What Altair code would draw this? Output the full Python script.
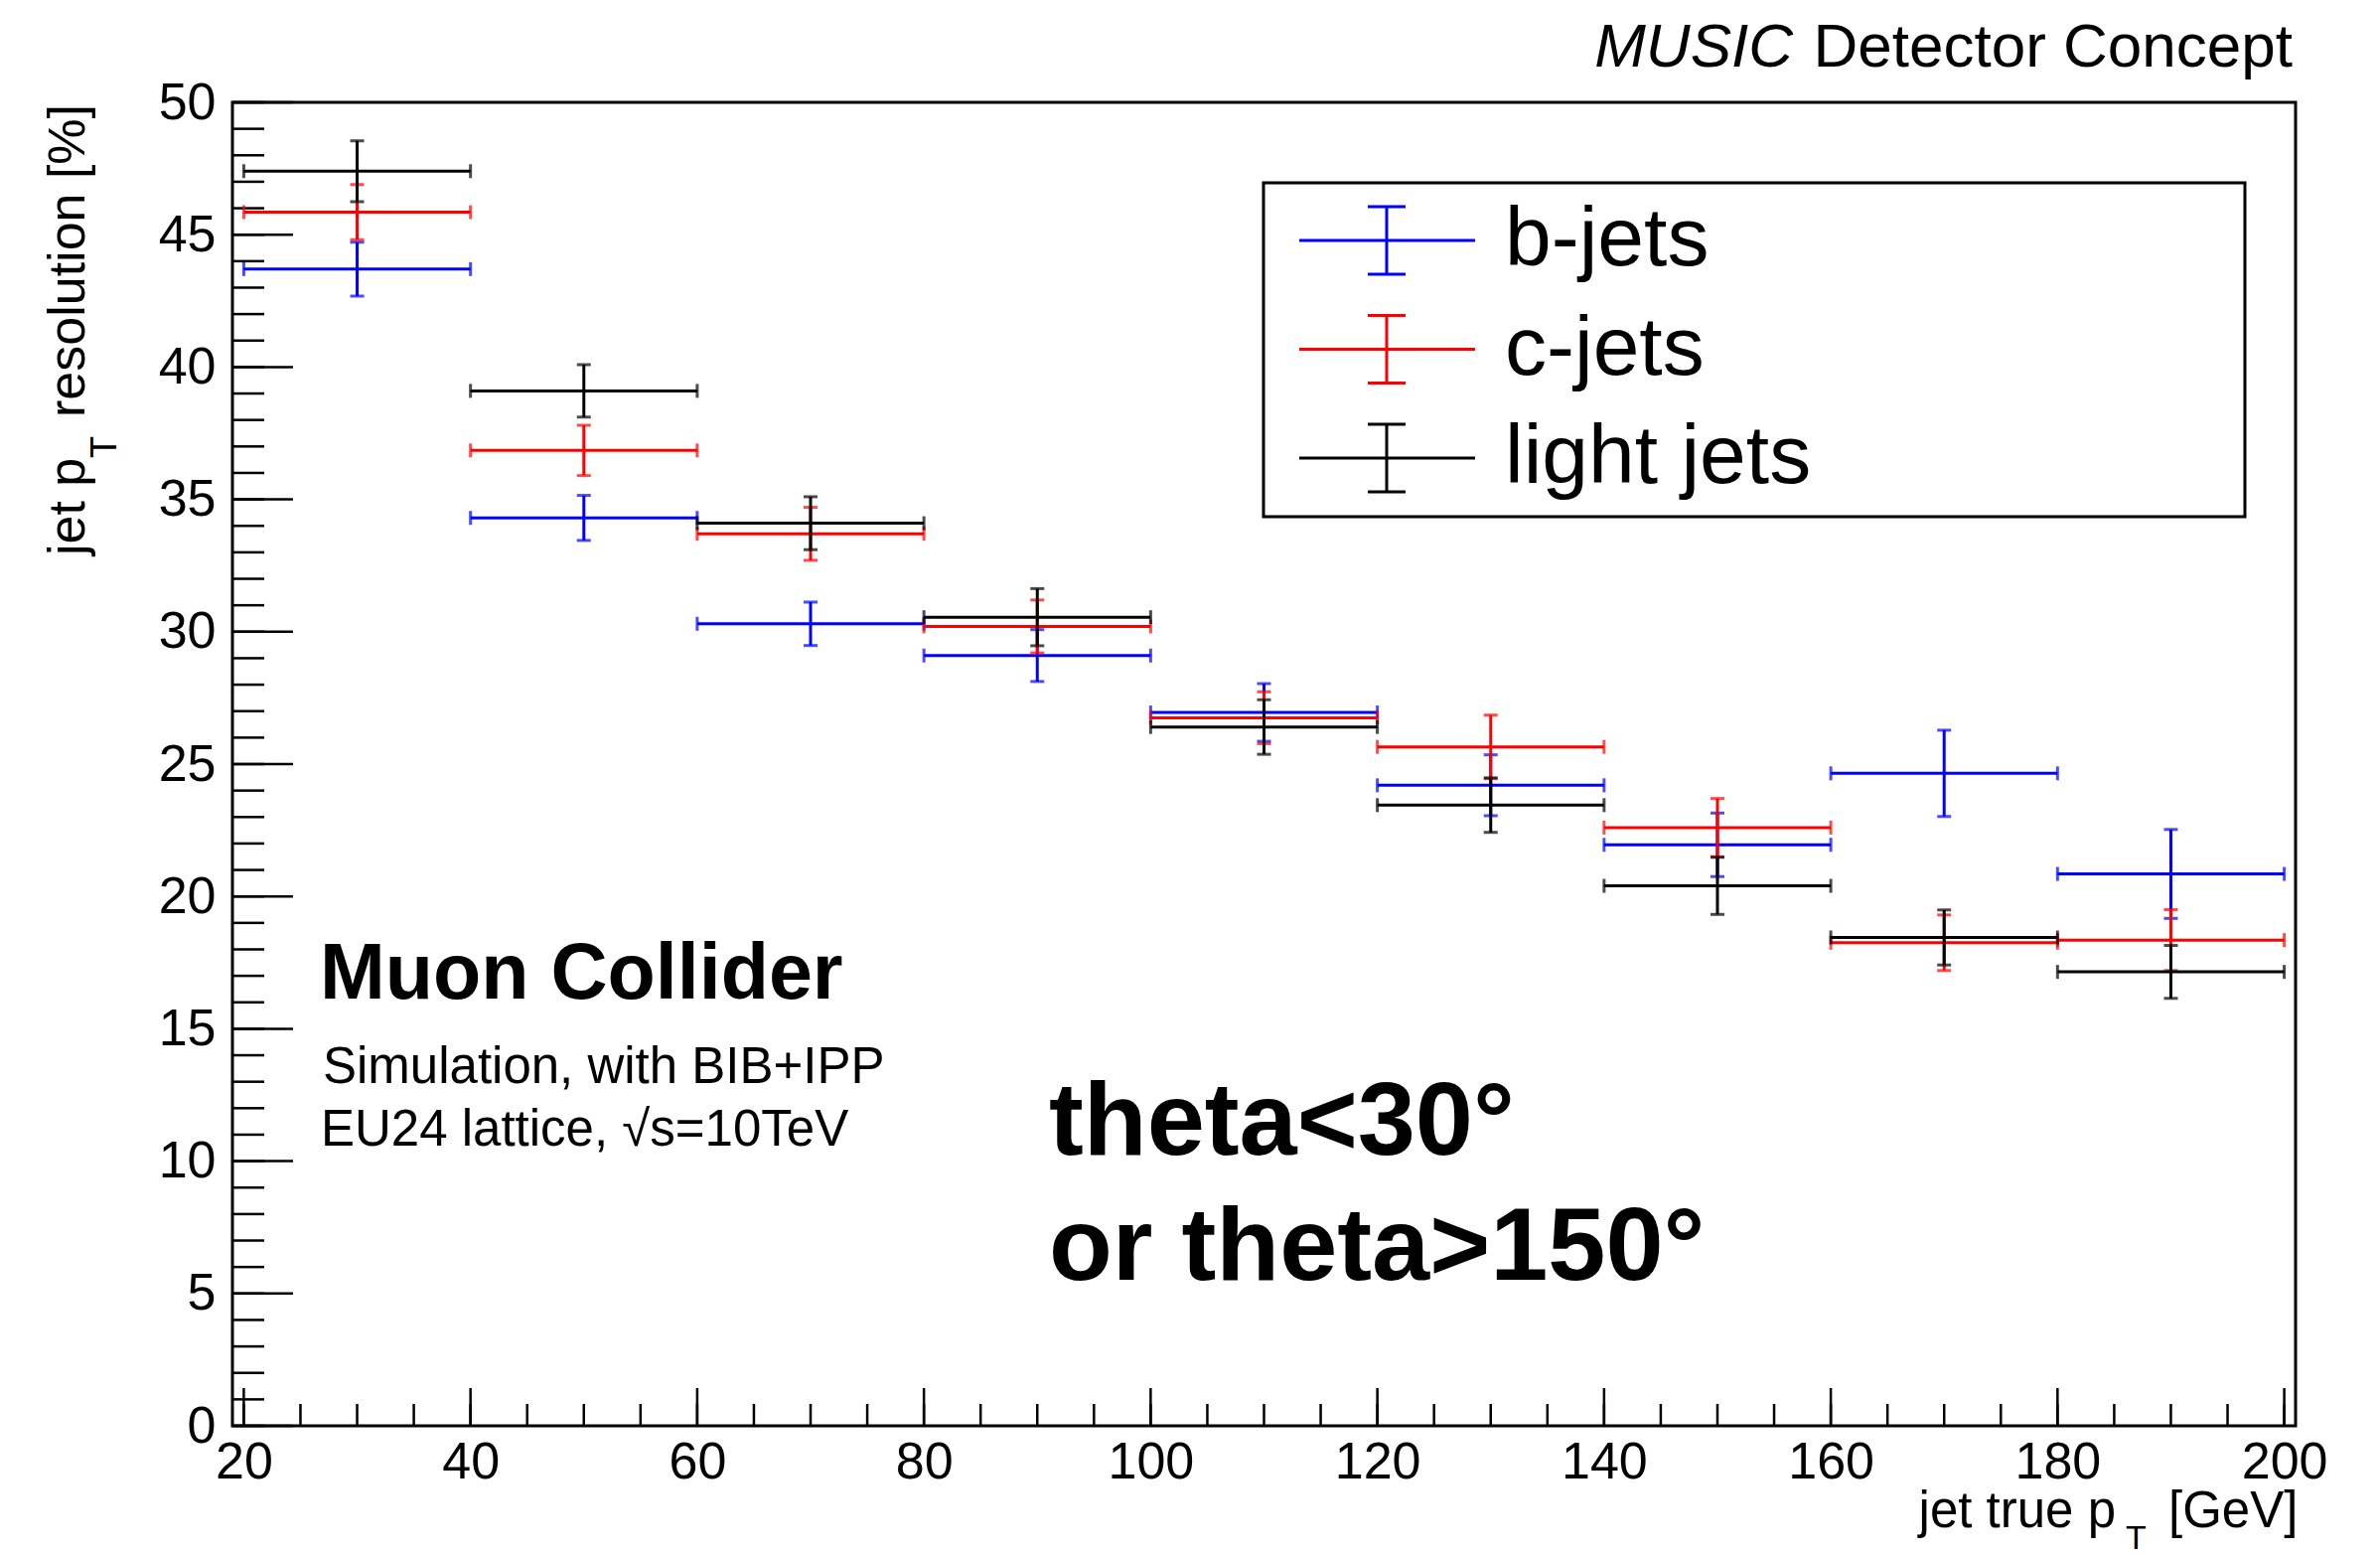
import altair as alt
import pandas as pd

# ---------------- data ----------------
bin_lo = [20, 40, 60, 80, 100, 120, 140, 160, 180]
bin_hi = [40, 60, 80, 100, 120, 140, 160, 180, 200]
bin_mid = [30, 50, 70, 90, 110, 130, 150, 170, 190]

b_res = [43.7, 34.3, 30.3, 29.1, 26.95, 24.2, 21.95, 24.65, 20.85]
b_err = [1.02, 0.85, 0.82, 0.98, 1.09, 1.15, 1.2, 1.63, 1.68]
c_res = [45.85, 36.85, 33.7, 30.2, 26.75, 25.65, 22.6, 18.25, 18.35]
c_err = [1.04, 0.95, 1.0, 1.0, 0.98, 1.2, 1.1, 1.05, 1.15]
l_res = [47.4, 39.1, 34.1, 30.55, 26.4, 23.45, 20.4, 18.45, 17.15]
l_err = [1.15, 0.99, 1.0, 1.08, 1.03, 1.03, 1.08, 1.04, 1.0]

series_names = ["b-jets", "c-jets", "light jets"]
series_colors = ["#0000ff", "#ff0000", "#000000"]
series_res = [b_res, c_res, l_res]
series_err = [b_err, c_err, l_err]

x_major = [20, 40, 60, 80, 100, 120, 140, 160, 180, 200]
x_minor = list(range(20, 201, 5))
y_major = [0, 5, 10, 15, 20, 25, 30, 35, 40, 45, 50]
y_minor = list(range(0, 51))

FONT = "Liberation Sans"
W, H = 2077, 1332
PAD = {"left": 234, "top": 103, "right": 85, "bottom": 130}

X_SCALE = alt.Scale(domain=[19, 201], nice=False, zero=False)
Y_SCALE = alt.Scale(domain=[0, 50], nice=False, zero=False)

x_axis = alt.Axis(values=x_major, ticks=False, tickSize=0, domain=False, grid=False,
                  labelFontSize=52, labelFont=FONT, labelColor="black", labelPadding=11,
                  labelFlush=False, labelOverlap=False, title=None, format="d")
y_axis = alt.Axis(values=y_major, ticks=False, tickSize=0, domain=False, grid=False,
                  labelFontSize=52, labelFont=FONT, labelColor="black", labelPadding=17,
                  labelFlush=False, labelOverlap=False, title=None, format="d")


def X(f):
    return alt.X(f, type="quantitative", scale=X_SCALE, axis=x_axis)


def Y(f):
    return alt.Y(f, type="quantitative", scale=Y_SCALE, axis=y_axis)


layers = []

# ---------------- inward axis ticks ----------------
ym = pd.DataFrame({"v": y_major})
yn = pd.DataFrame({"v": y_minor})
xm = pd.DataFrame({"v": x_major})
xn = pd.DataFrame({"v": x_minor})
layers.append(alt.Chart(yn).mark_rule(color="black", strokeWidth=2.5).encode(
    y=Y("v"), x=alt.value(0), x2=alt.value(32)))
layers.append(alt.Chart(ym).mark_rule(color="black", strokeWidth=2.5).encode(
    y=Y("v"), x=alt.value(0), x2=alt.value(61)))
layers.append(alt.Chart(xn).mark_rule(color="black", strokeWidth=2.5).encode(
    x=X("v"), y=alt.value(H), y2=alt.value(H - 22)))
layers.append(alt.Chart(xm).mark_rule(color="black", strokeWidth=2.5).encode(
    x=X("v"), y=alt.value(H), y2=alt.value(H - 38)))

# ---------------- error-bar series ----------------
for name, col, res, err in zip(series_names, series_colors, series_res, series_err):
    df = pd.DataFrame({"lo": bin_lo, "hi": bin_hi, "mid": bin_mid, "val": res, "err": err})
    base = alt.Chart(df).transform_calculate(
        ylo="datum.val - datum.err", yhi="datum.val + datum.err")
    layers.append(base.mark_rule(color=col, strokeWidth=3).encode(
        x=X("lo"), x2=alt.X2("hi"), y=Y("val")))
    layers.append(base.mark_rule(color=col, strokeWidth=3).encode(
        x=X("mid"), y=Y("ylo:Q"), y2=alt.Y2("yhi:Q")))
    layers.append(base.transform_fold(["lo", "hi"], as_=["k", "xv"]).mark_tick(
        color=col, orient="vertical", size=14, thickness=3).encode(
        x=X("xv:Q"), y=Y("val")))
    layers.append(base.transform_fold(["ylo", "yhi"], as_=["k", "yv"]).mark_tick(
        color=col, orient="horizontal", size=14, thickness=3).encode(
        x=X("mid"), y=Y("yv:Q")))

# ---------------- manual legend ----------------
dummy = pd.DataFrame({"d": [0]})
layers.append(alt.Chart(dummy).mark_rect(fill="white", stroke="black", strokeWidth=3).encode(
    x=alt.value(1038), x2=alt.value(2026), y=alt.value(81), y2=alt.value(417)))
leg_top, leg_gap = 139, 109.5
for i, (name, col) in enumerate(zip(series_names, series_colors)):
    ly = leg_top + i * leg_gap
    layers.append(alt.Chart(dummy).mark_rule(color=col, strokeWidth=3).encode(
        x=alt.value(1074), x2=alt.value(1251), y=alt.value(ly)))
    layers.append(alt.Chart(dummy).mark_rule(color=col, strokeWidth=3).encode(
        x=alt.value(1162), y=alt.value(ly - 34), y2=alt.value(ly + 34)))
    layers.append(alt.Chart(dummy).mark_rule(color=col, strokeWidth=3).encode(
        x=alt.value(1143), x2=alt.value(1181), y=alt.value(ly - 34)))
    layers.append(alt.Chart(dummy).mark_rule(color=col, strokeWidth=3).encode(
        x=alt.value(1143), x2=alt.value(1181), y=alt.value(ly + 34)))
    layers.append(alt.Chart(dummy).mark_text(
        text=name, font=FONT, fontSize=84, align="left", baseline="alphabetic",
        color="black").encode(x=alt.value(1281), y=alt.value(ly + 25)))


# ---------------- texts ----------------
def txt(s, x, y, size, align="left", weight="normal", style="normal", angle=0):
    return alt.Chart(dummy).mark_text(
        text=s, font=FONT, fontSize=size, align=align, baseline="alphabetic",
        fontWeight=weight, fontStyle=style, angle=angle, color="black").encode(
        x=alt.value(x), y=alt.value(y))


layers += [
    txt("MUSIC", 1571, -36, 62, align="right", style="italic"),
    txt("Detector Concept", 2074, -36, 62, align="right"),
    # x-axis title
    txt("jet true p", 1896, 1434, 51, align="right"),
    txt("T", 1906, 1456, 34),
    txt("[GeV]", 1949, 1434, 51),
    # y-axis title
    txt("jet p", -149, 456, 52, angle=270),
    txt("T", -117, 358, 36, angle=270),
    txt("resolution [%]", -149, 317, 52, angle=270),
    # annotations
    txt("Muon Collider", 88, 902, 79, weight="bold"),
    txt("Simulation, with BIB+IPP", 91, 987, 51),
    txt("EU24 lattice, \u221as=10TeV", 89, 1050, 51),
    txt("theta<30\u00b0", 822, 1059, 104.5, weight="bold"),
    txt("or theta>150\u00b0", 822, 1185, 104.5, weight="bold"),
]

chart = alt.layer(*layers).properties(
    width=W, height=H, padding=PAD,
    autosize=alt.AutoSizeParams(type="none"),
    background="white",
).configure_view(stroke="black", strokeWidth=3)

chart.save("out.html", embed_options={"renderer": "svg", "actions": False})
